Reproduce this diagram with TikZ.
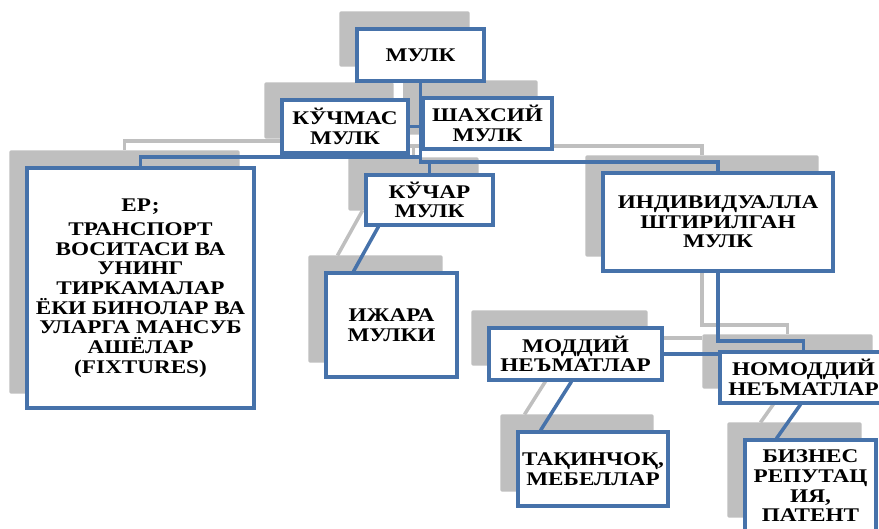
\documentclass[tikz,border=0pt]{standalone}
\usepackage{fontspec}
\setmainfont{Liberation Serif}[FakeStretch=1.2]
\usetikzlibrary{backgrounds}
\definecolor{boxblue}{RGB}{70,114,170}
\definecolor{shadegrey}{RGB}{191,191,191}

\begin{document}
\begin{tikzpicture}[x=0.03cm,y=-0.03cm,
  box/.style={draw=boxblue,line width=2.6pt,fill=white,align=center,inner sep=1pt,
    font=\bfseries\fontsize{16.5}{16.8}\selectfont},
  link/.style={line width=3pt}]
\useasboundingbox (0,0) rectangle (879,528);
\clip (0,0) rectangle (879,528);
\node[box,minimum width=3.81cm,minimum height=1.56cm] (mulk) at (420.5,55) {МУЛК};
\node[box,minimum width=3.78cm,minimum height=1.59cm] (kuchmas) at (345,126.5) {КЎЧМАС\\МУЛК};
\node[box,minimum width=3.87cm,minimum height=1.53cm] (shaxsiy) at (487.5,123.5) {ШАХСИЙ\\МУЛК};
\node[box,minimum width=6.81cm,minimum height=7.2cm] (yer) at (140.5,288) {ЕР;\\[4pt]ТРАНСПОРТ\\ВОСИТАСИ ВА\\УНИНГ\\ТИРКАМАЛАР\\ЁКИ БИНОЛАР ВА\\УЛАРГА МАНСУБ\\АШЁЛАР\\(FIXTURES)};
\node[box,minimum width=3.81cm,minimum height=1.5cm] (kuchar) at (429.5,200) {КЎЧАР\\МУЛК};
\node[box,minimum width=3.93cm,minimum height=3.12cm] (ijara) at (391.5,325) {ИЖАРА\\МУЛКИ};
\node[box,minimum width=6.9cm,minimum height=2.94cm] (indiv) at (718,222) {ИНДИВИДУАЛЛА\\ШТИРИЛГАН\\МУЛК};
\node[box,minimum width=5.19cm,minimum height=1.56cm] (moddiy) at (575.5,354) {МОДДИЙ\\НЕЪМАТЛАР};
\node[box,minimum width=5.01cm,minimum height=1.53cm] (nomoddiy) at (803.5,377.5) {НОМОДДИЙ\\НЕЪМАТЛАР};
\node[box,minimum width=4.5cm,minimum height=2.22cm] (taqinchoq) at (593,469) {ТАҚИНЧОҚ,\\МЕБЕЛЛАР};
\node[box,minimum width=3.93cm,minimum height=2.76cm] (biznes) at (810.5,486) {БИЗНЕС\\РЕПУТАЦ\\ИЯ,\\ПАТЕНТ};
\coordinate (lbus) at (0,157);
\coordinate (rbus) at (0,162);
\coordinate (mbus) at (0,341);
\begin{scope}[on background layer]
% grey shadows behind the boxes
\foreach \n in {mulk,kuchmas,shaxsiy,yer,kuchar,ijara,indiv,moddiy,nomoddiy,taqinchoq,biznes}
  \fill[shadegrey,rounded corners=1pt,transform canvas={shift={(-16,-16)}}] (\n.south west) rectangle (\n.north east);
% links: shadow pass, then blue pass
\foreach \col/\sh in {shadegrey/{-16,-16},boxblue/{0,0}} {
  \begin{scope}[transform canvas={shift={(\sh)}}]
  \draw[link,draw=\col] (mulk.south) |- (rbus -| indiv.north) -- (indiv.north);
  \draw[link,draw=\col] (mulk.south |- rbus) -| (kuchar.north);
  \draw[link,draw=\col] (mulk.south |- lbus) -| (yer.north);
  \draw[link,draw=\col] (kuchmas.east) -- (kuchmas.east -| mulk.south);
  \draw[link,draw=\col] (shaxsiy.west) -- (shaxsiy.west -| mulk.south);
  \draw[link,draw=\col] ([shift={(14,0)}]kuchar.south west) -- ([shift={(29,0)}]ijara.north west);
  \draw[link,draw=\col] (indiv.south) |- (mbus -| nomoddiy.north) -- (nomoddiy.north);
  \draw[link,draw=\col] (moddiy.east) -- (moddiy.east -| indiv.south);
  \draw[link,draw=\col] ([shift={(84,0)}]moddiy.south west) -- ([shift={(24,0)}]taqinchoq.north west);
  \draw[link,draw=\col] ([shift={(82,0)}]nomoddiy.south west) -- ([shift={(33,0)}]biznes.north west);
  \end{scope}
}
\end{scope}
\end{tikzpicture}
\end{document}
